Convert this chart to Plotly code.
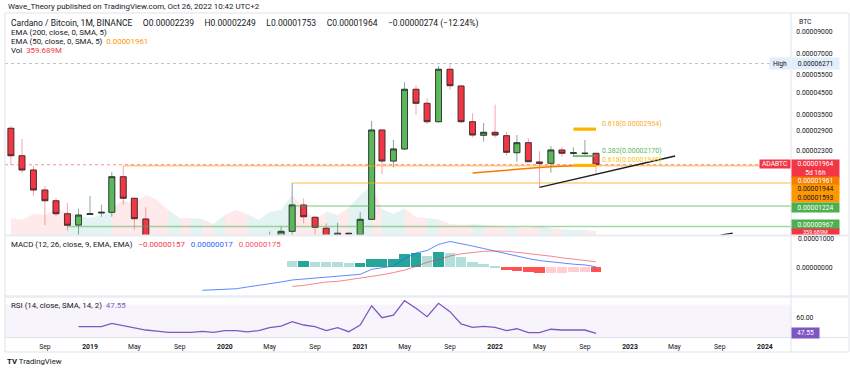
import math
import pandas as pd
import plotly.graph_objects as go

SAT = 1e-8

# ---------------- data (prices in satoshis) ----------------
months = pd.date_range("2018-06-01", "2022-10-01", freq="MS")  # monthly bars

open_sats = [
    2983, 2178, 1849, 1470, 1300, 1120, 984,
    1110, 1130, 1138, 1712, 1337, 1054, 760, 640, 570, 600, 520, 560,
    480, 570, 540, 500, 620, 760, 915, 1238, 1075, 948, 870, 895,
    880, 1050, 2925, 2050, 2353, 4665, 3973, 3217, 5868, 4845, 3217, 2753,
    2849, 2740, 2255, 2529, 2027, 1997, 2326, 2240, 2232, 2239,
]
high_sats = [
    3074, 2638, 1936, 1539, 1341, 1266, 1186,
    1372, 1242, 1807, 1944, 1345, 1205, 800, 690, 640, 640, 600, 580,
    600, 620, 580, 640, 912, 965, 1593, 1337, 1091, 1003, 1010, 905,
    1138, 3243, 2925, 2608, 5055, 4901, 4208, 6094, 6271, 4900, 3542, 3170,
    3910, 2868, 2762, 2660, 2299, 2435, 2416, 2399, 2608, 2249,
]
low_sats = [
    1958, 1781, 1377, 984, 1091, 922, 870,
    1103, 1082, 1082, 1238, 929, 700, 610, 540, 520, 500, 480, 460,
    470, 520, 420, 480, 600, 740, 880, 1003, 880, 820, 840, 800,
    800, 1042, 1766, 1907, 2326, 3474, 3134, 3190, 4628, 3159, 2690, 2558,
    2675, 2178, 2034, 2027, 1516, 1793, 2154, 2154, 2196, 1753,
]
close_sats = [
    2178, 1849, 1470, 1300, 1120, 981, 1103,
    1120, 1138, 1712, 1337, 1058, 760, 640, 570, 600, 520, 560, 480,
    570, 540, 500, 620, 760, 915, 1238, 1082, 958, 860, 895, 890,
    1050, 2925, 2050, 2353, 4665, 3973, 3217, 5868, 4861, 3217, 2762, 2849,
    2762, 2265, 2529, 2034, 1997, 2326, 2239, 2250, 2239, 1964,
]
volume_m = [
    1530, 1350, 1890, 1800, 2340, 2070, 1710,
    1530, 1800, 2430, 3150, 2790, 3600, 3150, 2250, 1530, 1530, 1440, 990,
    1800, 2250, 1890, 1350, 2070, 2250, 3600, 2300, 1450, 2070, 1800, 2430,
    3600, 4400, 2350, 1900, 2400, 1600, 1500, 1400, 1000, 900, 1000, 900,
    800, 720, 720, 630, 810, 630, 540, 450, 450, 360,
]

ema50_months = pd.date_range("2021-11-01", "2022-10-01", freq="MS")
ema50_sats = [1787, 1807, 1828, 1849, 1870, 1885, 1903, 1918, 1931, 1945, 1954, 1961]

macd_months = pd.date_range("2019-11-01", "2022-10-01", freq="MS")
macd_e6 = [-7.35, -7.2, -7.0, -6.85, -6.3, -5.8, -5.3, -4.7, -4.05, -3.75, -3.35, -3.1,
           -2.95, -2.7, -2.25, -0.65, -0.2, 0.4, 2.8, 4.55, 5.35, 7.3, 8.25, 7.6,
           6.8, 6.0, 5.2, 4.25, 3.45, 2.8, 2.15, 1.7, 1.3, 1.0, 0.75, 0.17]
sig_months = pd.date_range("2020-07-01", "2022-10-01", freq="MS")
signal_e6 = [-6.1, -5.8, -5.2, -4.7, -4.5, -4.0, -3.6, -3.0, -2.4, -1.7, -0.9, 0.3,
             1.6, 2.5, 3.6, 4.3, 4.8, 5.1, 5.2, 5.15, 4.8, 4.45, 4.05, 3.55,
             3.05, 2.65, 2.3, 1.75]
hist_e6 = [2.0, 2.05, 1.8, 1.6, 1.55, 1.3, 1.35, 2.6, 2.65, 2.7, 4.3, 4.5,
           3.7, 4.8, 4.7, 3.4, 1.8, 1.0, 0.2, -0.9, -1.2, -1.6, -1.9, -1.8,
           -1.7, -1.6, -1.5, -1.57]

rsi_months = pd.date_range("2018-12-01", "2022-10-01", freq="MS")
rsi_vals = [52.7,
            52.7, 52.7, 55.3, 53.4, 52.1, 50.1, 49.3, 48.3, 48.3, 48.3, 49.1, 48.3,
            49.6, 49.6, 48.6, 49.6, 51.9, 53.2, 56.6, 54.0, 52.7, 49.6, 51.9, 48.8,
            54.0, 69.0, 59.7, 61.6, 72.9, 67.0, 60.5, 70.9, 64.4, 54.8, 52.2, 53.0,
            52.2, 49.6, 51.1, 48.0, 48.0, 50.7, 50.1, 50.1, 50.1, 47.55]

# horizontal levels (sats) and their start dates
level_resist = [("2019-04-01", 1944), ("2020-07-01", 1593)]
level_support = [("2018-11-01", 967), ("2020-07-01", 1224)]
last_price = 1964
ath_high = 6271
fib_start, fib_end = "2022-08-01", "2022-10-01"
fib_levels = [("0.618", 2954), ("0.382", 2170), ("0.618", 1949)]
trend_x = ["2022-05-01", "2023-05-03"]
trend_sats = [1516, 2171]
trend2_x = ["2023-09-03", "2023-10-06"]
trend2_sats = [877, 897]

x_tick_dates = ["2018-09-01", "2019-01-01", "2019-05-01", "2019-09-01", "2020-01-01",
                "2020-05-01", "2020-09-01", "2021-01-01", "2021-05-01", "2021-09-01",
                "2022-01-01", "2022-05-01", "2022-09-01", "2023-01-01", "2023-05-01",
                "2023-09-01", "2024-01-01"]
x_tick_text = ["Sep", "<b>2019</b>", "May", "Sep", "<b>2020</b>", "May", "Sep", "<b>2021</b>",
               "May", "Sep", "<b>2022</b>", "May", "Sep", "<b>2023</b>", "May", "Sep", "<b>2024</b>"]
price_ticks = [9000, 7000, 5500, 4500, 3500, 2900, 2300]

# ---------------- geometry (pixels of the 850x371 page) ----------------
PL, PR, PT, PB = 5, 791, 13, 337
W, H = PR - PL, PB - PT
def pxx(px):
    return (px - PL) / W
def pxy(py):
    return (PB - py) / H

# date axis: Jan 2019 at px 90, 11.25 px per month
t0 = pd.Timestamp("2019-01-01")
x_left = t0 + pd.Timedelta(days=(PL - 90) / 11.25 * 30.4375)
x_right = t0 + pd.Timedelta(days=(PR - 90) / 11.25 * 30.4375)

# main price log scale: 0.00009000 at py 32, 87.2 px per ln unit
def log_at(py):
    return math.log10(9000 * SAT) - (py - 32) / 87.2 / math.log(10)
main_top, main_bot = 13, 235
price_range = [log_at(main_bot), log_at(main_top)]
vol_range = [0, (main_bot - main_top) * 90]

macd_top, macd_bot = 236, 295.5
macd_zero, macd_pxu = 267.3, 3.13
macd_range = [-(macd_bot - macd_zero) / macd_pxu * 1e-6, (macd_zero - macd_top) / macd_pxu * 1e-6]
rsi_top, rsi_bot = 297.5, 337
rsi_ref, rsi_pxu = 317.3, 1.285
rsi_range = [60 - (rsi_bot - rsi_ref) / rsi_pxu, 60 + (rsi_ref - rsi_top) / rsi_pxu]

FONT = "Roboto, Inter, sans-serif"
TXT = "#131722"
GREEN = "#5CB85C"
RED = "#F23645"
LEG = 7.9   # legend / header text size

fig = go.Figure()

# ---- volume (area, coloured per bar) ----
for i in range(1, len(months)):
    up = close_sats[i] >= open_sats[i]
    fig.add_trace(go.Scatter(
        x=[months[i - 1], months[i]], y=[volume_m[i - 1], volume_m[i]],
        mode="lines", line=dict(width=0), fill="tozeroy",
        fillcolor="rgba(38,166,154,0.13)" if up else "rgba(242,54,69,0.11)",
        xaxis="x", yaxis="y", hoverinfo="skip"))

def P(lst):
    return [v * SAT for v in lst]

# ---- horizontal levels ----
fig.add_trace(go.Scatter(x=[x_left, x_right], y=P([ath_high, ath_high]), mode="lines",
                         line=dict(color="rgba(120,123,134,0.45)", width=1, dash="dot"),
                         xaxis="x", yaxis="y4", hoverinfo="skip"))
for d, v in level_resist:
    fig.add_trace(go.Scatter(x=[d, x_right], y=P([v, v]), mode="lines",
                             line=dict(color="rgba(255,167,38,0.55)", width=1.6),
                             xaxis="x", yaxis="y4", hoverinfo="skip"))
for d, v in level_support:
    fig.add_trace(go.Scatter(x=[d, x_right], y=P([v, v]), mode="lines",
                             line=dict(color="rgba(76,175,80,0.5)", width=1.4),
                             xaxis="x", yaxis="y4", hoverinfo="skip"))
fig.add_trace(go.Scatter(x=[x_left, x_right], y=P([last_price, last_price]), mode="lines",
                         line=dict(color="rgba(242,54,69,0.55)", width=1, dash="dot"),
                         xaxis="x", yaxis="y4", hoverinfo="skip"))

# ---- EMA 50 ----
fig.add_trace(go.Scatter(x=ema50_months, y=P(ema50_sats), mode="lines",
                         line=dict(color="#F57C00", width=1.5),
                         xaxis="x", yaxis="y4", hoverinfo="skip"))

# ---- candles: wicks then bodies ----
fig.add_trace(go.Candlestick(
    x=months, open=P(open_sats), high=P(high_sats), low=P(low_sats), close=P(close_sats),
    xaxis="x", yaxis="y4", whiskerwidth=0, hoverinfo="skip",
    increasing=dict(line=dict(color="rgba(70,120,105,0.65)", width=1), fillcolor="rgba(0,0,0,0)"),
    decreasing=dict(line=dict(color="rgba(242,54,69,0.45)", width=1), fillcolor="rgba(0,0,0,0)")))
body_hi = [max(a, b) for a, b in zip(open_sats, close_sats)]
body_lo = [min(a, b) for a, b in zip(open_sats, close_sats)]
fig.add_trace(go.Candlestick(
    x=months, open=P(open_sats), high=P(body_hi), low=P(body_lo), close=P(close_sats),
    xaxis="x", yaxis="y4", whiskerwidth=0, hoverinfo="skip",
    increasing=dict(line=dict(color="rgba(45,45,45,0.85)", width=1), fillcolor=GREEN),
    decreasing=dict(line=dict(color="rgba(45,45,45,0.85)", width=1), fillcolor=RED)))

# ---- fib levels and trend lines ----
fib_colors = ["#FFB300", "#4CAF50", "#FFB300"]
fib_widths = [3.2, 1.5, 3.2]
for (name, v), c, w in zip(fib_levels, fib_colors, fib_widths):
    fig.add_trace(go.Scatter(x=[fib_start, fib_end], y=P([v, v]), mode="lines",
                             line=dict(color=c, width=w), xaxis="x", yaxis="y4", hoverinfo="skip"))
fig.add_trace(go.Scatter(x=trend_x, y=P(trend_sats), mode="lines",
                         line=dict(color="#1E1E1E", width=1.4), xaxis="x", yaxis="y4", hoverinfo="skip"))
fig.add_trace(go.Scatter(x=trend2_x, y=P(trend2_sats), mode="lines",
                         line=dict(color="#1E1E1E", width=1.2), xaxis="x", yaxis="y4", hoverinfo="skip"))

# ---- MACD ----
hist_colors = []
for i, h in enumerate(hist_e6):
    prev = hist_e6[i - 1] if i > 0 else h + 1
    if h >= 0:
        hist_colors.append("#26A69A" if h > prev else "#B2DFDB")
    else:
        hist_colors.append("#FFCDD2" if h > prev else "#FF5252")
fig.add_trace(go.Bar(x=sig_months, y=[h * 1e-6 for h in hist_e6], marker=dict(color=hist_colors, line=dict(width=0)),
                     xaxis="x", yaxis="y2", hoverinfo="skip"))
fig.add_trace(go.Scatter(x=macd_months, y=[v * 1e-6 for v in macd_e6], mode="lines",
                         line=dict(color="rgba(41,98,255,0.75)", width=1), xaxis="x", yaxis="y2", hoverinfo="skip"))
fig.add_trace(go.Scatter(x=sig_months, y=[v * 1e-6 for v in signal_e6], mode="lines",
                         line=dict(color="rgba(242,54,69,0.6)", width=1), xaxis="x", yaxis="y2", hoverinfo="skip"))

# ---- RSI ----
fig.add_trace(go.Scatter(x=rsi_months, y=rsi_vals, mode="lines",
                         line=dict(color="#7E57C2", width=1.3), xaxis="x", yaxis="y3", hoverinfo="skip"))

shapes = [
    dict(type="rect", xref="paper", yref="y3", x0=0, x1=1, y0=30, y1=70,
         fillcolor="rgba(126,87,194,0.06)", line=dict(width=0), layer="below"),
]
BORDER = "#E0E3EB"
def hline(py, w=1, col=BORDER):
    shapes.append(dict(type="line", xref="paper", yref="paper", x0=pxx(PL), x1=pxx(849),
                       y0=pxy(py), y1=pxy(py), line=dict(color=col, width=w)))
def vline(px, py0, py1, w=1, col=BORDER):
    shapes.append(dict(type="line", xref="paper", yref="paper", x0=pxx(px), x1=pxx(px),
                       y0=pxy(py0), y1=pxy(py1), line=dict(color=col, width=w)))
hline(13)
hline(235.5, 2, "#E9ECF2")
hline(296.5, 2.5, "#E9ECF2")
hline(337.5)
hline(352)
vline(PL, 13, 352)
vline(PR, 13, 352)
vline(849, 13, 352)

annotations = []
def ann(text, px, py, size=LEG, color=TXT, xanchor="left", **kw):
    annotations.append(dict(text=text, x=pxx(px), y=pxy(py), xref="paper", yref="paper",
                            xanchor=xanchor, yanchor="middle", showarrow=False,
                            font=dict(family=FONT, size=size, color=color), **kw))
def tag(text, px, py, w, h, bg, color="white", xanchor="left", size=6.7):
    annotations.append(dict(text=text, x=pxx(px), y=pxy(py), xref="paper", yref="paper",
                            xanchor=xanchor, yanchor="middle", showarrow=False, width=w, height=h,
                            bgcolor=bg, borderpad=0, align="center",
                            font=dict(family=FONT, size=size, color=color)))

SP = "&nbsp;&nbsp;"
SP4 = "&nbsp;" * 5
ann("Wave_Theory published on TradingView.com, Oct 26, 2022 10:42 UTC+2", 6, 7)
ann("Cardano / Bitcoin, 1M, BINANCE" + SP4 + "O0.00002239" + SP4 + "H0.00002249" + SP4 + "L0.00001753"
    + SP4 + "C0.00001964" + SP4 + "\u22120.00000274 (\u221212.24%)", 9, 23.5, size=8.5)
ann("EMA (200, close, 0, SMA, 5)", 9, 32.5)
ann("EMA (50, close, 0, SMA, 5)" + SP + "<span style='color:#FF9800'>0.00001961</span>", 9, 41.5)
ann("Vol" + SP + "<span style='color:#F23645'>359.689M</span>", 9, 50.5)
ann("MACD (12, 26, close, 9, EMA, EMA)" + SP + "&nbsp;<span style='color:#F23645'>\u22120.00000157</span>"
    + SP + "&nbsp;<span style='color:#2962FF'>0.00000017</span>" + SP
    + "&nbsp;<span style='color:#F7525F'>0.00000175</span>", 9, 244)
ann("RSI (14, close, SMA, 14, 2)" + SP + "<span style='color:#7E57C2'>47.55</span>", 9, 305)
ann("BTC", 797, 21.5, size=6.8)
ann("<b>TV</b> TradingView", 5, 362, size=7.8)

# fib labels
for (name, v), c in zip(fib_levels, ["#FBAA2A", "#5CB85C", "#F5C518"]):
    annotations.append(dict(text="%s(%.8f)" % (name, v * SAT), x=fib_end, y=math.log10(v * SAT),
                            xref="x", yref="y4", xanchor="left", yanchor="middle", xshift=4, yshift=5,
                            showarrow=False, font=dict(family=FONT, size=7, color=c)))

# price-axis tags
tag("High", PR, 63, 20, 11, "#E3EEFC", TXT, xanchor="right")
tag("%.8f" % (ath_high * SAT), PR, 63, 47, 11, "#E3EEFC", TXT)
tag("ADABTC", PR, 164, 30, 8, RED, xanchor="right")
tag("%.8f<br>5d 16h" % (last_price * SAT), PR, 168.5, 47, 17, RED)
tag("0.00001961", PR, 181, 47, 8, "#F57C00")
tag("0.00001944", PR, 189, 47, 8, "#FF9800", TXT)
tag("0.00001593", PR, 197.5, 47, 9, "#FF9800", TXT)
tag("0.00001224", PR, 207, 47, 9, "#4CAF50")
tag("0.00000967", PR, 224.5, 47, 9, "#4CAF50")
tag("359.689M", PR, 231.5, 47, 5, RED, size=5.5)
# MACD top scale value (drawn over the clipped volume tag, as in the reference)
annotations.append(dict(text="0.00001000", x=1, y=pxy(238.5), xref="paper", yref="paper",
                        xanchor="left", yanchor="middle", showarrow=False, xshift=5,
                        font=dict(family=FONT, size=6.8, color=TXT)))
tag("47.55", PR, 333, 27, 10, "#7E57C2")

axis_common = dict(showgrid=False, zeroline=False, showline=False, fixedrange=True)
tickfont = dict(family=FONT, size=6.8, color=TXT)

fig.update_layout(
    width=850, height=371, margin=dict(l=PL, r=850 - PR, t=PT, b=371 - PB),
    paper_bgcolor="white", plot_bgcolor="white", showlegend=False,
    boxgap=0.18, bargap=0.0,
    font=dict(family=FONT, size=7, color=TXT),
    xaxis=dict(type="date", range=[x_left, x_right], anchor="y3",
               tickvals=x_tick_dates, ticktext=x_tick_text, ticks="outside", ticklen=3,
               tickcolor="rgba(0,0,0,0)", tickfont=tickfont,
               rangeslider=dict(visible=False), **axis_common),
    yaxis=dict(domain=[pxy(main_bot), 1], range=vol_range, visible=False, **axis_common),
    yaxis4=dict(type="log", overlaying="y", side="right", anchor="x", range=price_range,
                tickvals=P(price_ticks), ticktext=["%.8f" % (v * SAT) for v in price_ticks],
                ticks="outside", ticklen=3, tickcolor="rgba(0,0,0,0)", tickfont=tickfont, **axis_common),
    yaxis2=dict(domain=[pxy(macd_bot), pxy(macd_top)], anchor="x", side="right", range=macd_range,
                tickvals=[0], ticktext=["0.00000000"],
                ticks="outside", ticklen=3, tickcolor="rgba(0,0,0,0)", tickfont=tickfont, **axis_common),
    yaxis3=dict(domain=[0, pxy(rsi_top)], anchor="x", side="right", range=rsi_range,
                tickvals=[60], ticktext=["60.00"],
                ticks="outside", ticklen=3, tickcolor="rgba(0,0,0,0)", tickfont=tickfont, **axis_common),
    shapes=shapes, annotations=annotations,
)

fig.write_html("out.html", config={"displayModeBar": False},
               post_script="document.body.style.margin='0';document.body.style.overflow='hidden';")
